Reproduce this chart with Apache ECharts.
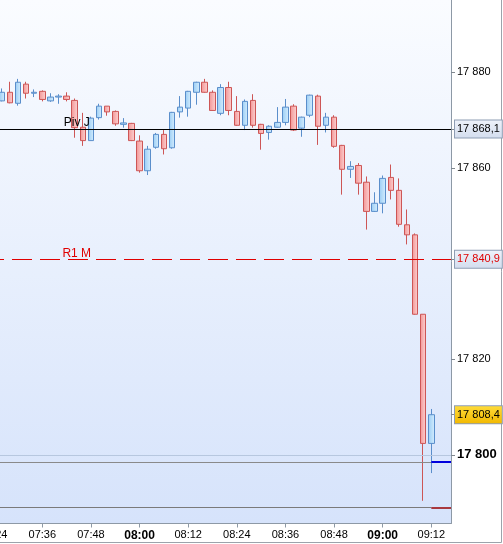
<!DOCTYPE html>
<html>
<head>
<meta charset="utf-8">
<script src="https://cdn.jsdelivr.net/npm/echarts@6/dist/echarts.min.js"></script>
<style>html,body{margin:0;padding:0;background:#fff}#c{width:503px;height:544px}</style>
</head>
<body>
<div id="c"></div>
<script>
// ---- data (2-minute candles) ----
const times = ['07:26','07:28','07:30','07:32','07:34','07:36','07:38','07:40','07:42','07:44',
  '07:46','07:48','07:50','07:52','07:54','07:56','07:58','08:00','08:02','08:04',
  '08:06','08:08','08:10','08:12','08:14','08:16','08:18','08:20','08:22','08:24',
  '08:26','08:28','08:30','08:32','08:34','08:36','08:38','08:40','08:42','08:44',
  '08:46','08:48','08:50','08:52','08:54','08:56','08:58','09:00','09:02','09:04',
  '09:06','09:08','09:10','09:12'];
const opens = [17874.0,17875.8,17873.5,17877.5,17875.6,17876.0,17874.0,17874.8,17875.0,17874.1,
  17868.5,17865.7,17870.5,17872.9,17871.8,17869.1,17869.3,17865.6,17859.4,17864.3,
  17867.0,17864.2,17871.7,17872.5,17875.8,17877.9,17875.8,17871.4,17876.8,17871.8,
  17868.9,17874.1,17869.1,17867.4,17868.5,17869.5,17872.9,17868.3,17871.0,17875.0,
  17868.9,17870.6,17864.7,17859.7,17860.5,17857.0,17850.9,17852.6,17858.0,17855.3,
  17848.1,17846.0,17829.4,17802.4];
const closes = [17875.8,17873.6,17877.9,17875.6,17875.8,17874.3,17874.8,17875.0,17874.3,17868.4,
  17865.7,17870.4,17872.9,17871.7,17869.2,17869.4,17865.7,17859.4,17863.9,17867.0,
  17864.0,17871.6,17872.7,17876.0,17877.9,17875.8,17872.0,17876.8,17872.0,17868.9,
  17873.9,17868.9,17867.2,17868.7,17869.5,17872.7,17867.9,17870.6,17875.2,17868.7,
  17870.6,17864.5,17859.7,17860.3,17856.8,17850.9,17852.6,17857.8,17855.3,17848.2,
  17846.0,17829.4,17802.4,17808.4];
const lows = [17873.9,17873.5,17873.0,17874.5,17874.8,17873.9,17873.8,17873.4,17873.9,17866.3,
  17864.6,17865.7,17870.1,17870.9,17868.8,17868.4,17865.6,17859.0,17858.5,17864.0,
  17862.8,17864.0,17870.5,17870.7,17873.2,17875.7,17871.9,17871.0,17871.0,17868.8,
  17867.9,17868.4,17863.8,17865.9,17868.4,17868.9,17867.7,17866.5,17870.6,17864.8,
  17867.4,17864.2,17854.4,17857.9,17854.4,17847.1,17850.8,17850.5,17853.4,17847.7,
  17844.0,17829.3,17790.4,17796.2];
const highs = [17876.6,17878.0,17878.6,17878.0,17876.4,17876.2,17875.6,17875.4,17875.8,17874.5,
  17871.5,17870.7,17873.4,17872.9,17872.0,17870.4,17869.4,17866.8,17864.6,17867.3,
  17867.9,17871.7,17875.0,17876.1,17878.0,17878.6,17876.2,17877.5,17878.0,17875.0,
  17874.3,17875.4,17869.2,17868.9,17872.7,17874.4,17873.3,17870.7,17875.3,17875.3,
  17871.5,17871.0,17864.8,17861.4,17861.0,17858.2,17854.9,17858.4,17860.7,17857.8,
  17851.3,17846.3,17829.4,17809.6];
const xTickLabels = ['07:24','07:36','07:48','08:00','08:12','08:24','08:36','08:48','09:00','09:12'];
const boldXLabels = ['08:00','09:00'];
const yTickValues = [17800, 17820, 17860, 17880];
const boldYValues = [17800];
const pivotNames = ['Piv J', 'R1 M'];
const pivotValues = [17868.1, 17840.9];
const lastClose = 17808.4;
const roundLevel = 17800;
const lowerLevels = [17798.5, 17789.05];

// ---- helpers ----
const toMin = s => { const p = s.split(':'); return (+p[0]) * 60 + (+p[1]); };
const pad2 = n => (n < 10 ? '0' : '') + n;
const fmtTime = v => pad2(Math.floor(v / 60)) + ':' + pad2(Math.round(v % 60));
const fmtInt = v => { const s = String(Math.round(v)); return s.slice(0, s.length - 3) + ' ' + s.slice(-3); };
const fmtDec = v => { const s = v.toFixed(1); const ip = s.split('.')[0]; return ip.slice(0, ip.length - 3) + ' ' + ip.slice(-3) + ',' + s.split('.')[1]; };

const FONT = '"Liberation Sans", Arial, sans-serif';
const xMin = toMin(xTickLabels[0]);
const xMax = 556.86;
const yMin = 17785.66, yMax = 17895.09;
const lastT = toMin(times[times.length - 1]);
const labelT = toMin('07:44');

const data = times.map((t, i) => [toMin(t), opens[i], closes[i], lows[i], highs[i]]);

const vgrad = (a, b) => ({ type: 'linear', x: 0, y: 0, x2: 0, y2: 1, colorStops: [{ offset: 0, color: a }, { offset: 1, color: b }] });
const hgrad = (a, b) => ({ type: 'linear', x: 0, y: 0, x2: 1, y2: 0, colorStops: [{ offset: 0, color: a }, { offset: 1, color: b }] });

const boxLabel = (text, color, bg) => ({
  show: true, position: 'end', distance: 4, formatter: text,
  fontFamily: FONT, fontSize: 11, color: color, lineHeight: 12,
  backgroundColor: bg, borderColor: '#8e9db4', borderWidth: 1, padding: [3, 2, 2, 2]
});

const chart = echarts.init(document.getElementById('c'), null, { renderer: 'canvas' });
chart.setOption({
  animation: false,
  backgroundColor: '#ffffff',
  grid: {
    left: -6.3, right: 52, top: 0, bottom: 20.5,
    containLabel: false, outerBoundsMode: 'none',
    show: true, borderWidth: 0,
    backgroundColor: vgrad('#fafcff', '#d6e3fb')
  },
  xAxis: {
    type: 'value', min: xMin, max: xMax,
    axisLine: { show: true, onZero: false, lineStyle: { color: '#8d99a6' } },
    axisTick: { show: true, length: 4, customValues: xTickLabels.map(toMin), lineStyle: { color: '#8d99a6' } },
    axisLabel: {
      customValues: xTickLabels.map(toMin), margin: 6, fontSize: 11, fontFamily: FONT, color: '#000',
      formatter: v => { const s = fmtTime(v); return boldXLabels.indexOf(s) >= 0 ? '{b|' + s + '}' : s; },
      rich: { b: { fontWeight: 'bold', fontSize: 12, fontFamily: FONT, color: '#000' } }
    },
    splitLine: { show: false }
  },
  yAxis: {
    type: 'value', position: 'right', min: yMin, max: yMax,
    axisLine: { show: true, lineStyle: { color: '#8d99a6' } },
    axisTick: { show: true, length: 4, customValues: yTickValues.concat(pivotValues, [lastClose]), lineStyle: { color: '#808890' } },
    axisLabel: {
      customValues: yTickValues, margin: 6, fontSize: 11, fontFamily: FONT, color: '#000',
      formatter: v => { const s = fmtInt(v); return boldYValues.indexOf(v) >= 0 ? '{b|' + s + '}' : s; },
      rich: { b: { fontWeight: 'bold', fontSize: 13, fontFamily: FONT, color: '#000' } }
    },
    splitLine: { show: false }
  },
  graphic: [
    { type: 'line', shape: { x1: 501.5, y1: 0, x2: 501.5, y2: 542.5 }, style: { stroke: '#9ca3ab', lineWidth: 1 } },
    { type: 'line', shape: { x1: 0, y1: 542.5, x2: 501.5, y2: 542.5 }, style: { stroke: '#9ca3ab', lineWidth: 1 } }
  ],
  series: [{
    type: 'candlestick',
    data: data,
    encode: { x: 0, y: [1, 2, 3, 4] },
    barWidth: 6,
    itemStyle: {
      color: hgrad('#99ccf4', '#d6eefe'),
      color0: hgrad('#f29494', '#fdd3d3'),
      borderColor: '#5a8ecb',
      borderColor0: '#cd5656',
      borderWidth: 1
    },
    markLine: {
      silent: true, symbol: ['none', 'none'], animation: false,
      label: { show: false },
      data: [
        { yAxis: roundLevel, lineStyle: { color: '#b7c7df', width: 1, type: 'solid' } },
        [{ coord: [xMin, lowerLevels[0]], lineStyle: { color: '#8a8a8a', width: 1, type: 'solid' } }, { coord: [lastT, lowerLevels[0]] }],
        [{ coord: [lastT, lowerLevels[0]], lineStyle: { color: '#0000dd', width: 2, type: 'solid' } }, { coord: [xMax, lowerLevels[0]] }],
        [{ coord: [xMin, lowerLevels[1]], lineStyle: { color: '#7a7a7a', width: 1, type: 'solid' } }, { coord: [lastT, lowerLevels[1]] }],
        [{ coord: [lastT, lowerLevels[1]], lineStyle: { color: '#990000', width: 1.5, type: 'solid' } }, { coord: [xMax, lowerLevels[1]] }],
        { yAxis: pivotValues[0], lineStyle: { color: '#000', width: 1, type: 'solid' },
          label: boxLabel(fmtDec(pivotValues[0]), '#000', vgrad('#eef2fa', '#d3ddee')) },
        { yAxis: pivotValues[1], lineStyle: { color: '#e00000', width: 1, type: [20, 8], dashOffset: 9.7 },
          label: boxLabel(fmtDec(pivotValues[1]), '#e00000', vgrad('#eef2fa', '#d3ddee')) },
        { yAxis: lastClose, lineStyle: { color: 'rgba(0,0,0,0)', width: 0 },
          label: boxLabel(fmtDec(lastClose), '#000', vgrad('#ffdc3a', '#f2b800')) }
      ]
    },
    markPoint: {
      silent: true, symbol: 'circle', symbolSize: 0, animation: false,
      data: [
        { coord: [labelT, pivotValues[0]], label: { show: true, position: 'top', distance: 0, offset: [2, 0], formatter: pivotNames[0], color: '#000', fontSize: 12, fontFamily: FONT } },
        { coord: [labelT, pivotValues[1]], label: { show: true, position: 'top', distance: 0, offset: [2, 0], formatter: pivotNames[1], color: '#e00000', fontSize: 12, fontFamily: FONT } }
      ]
    }
  }]
});
</script>
</body>
</html>
